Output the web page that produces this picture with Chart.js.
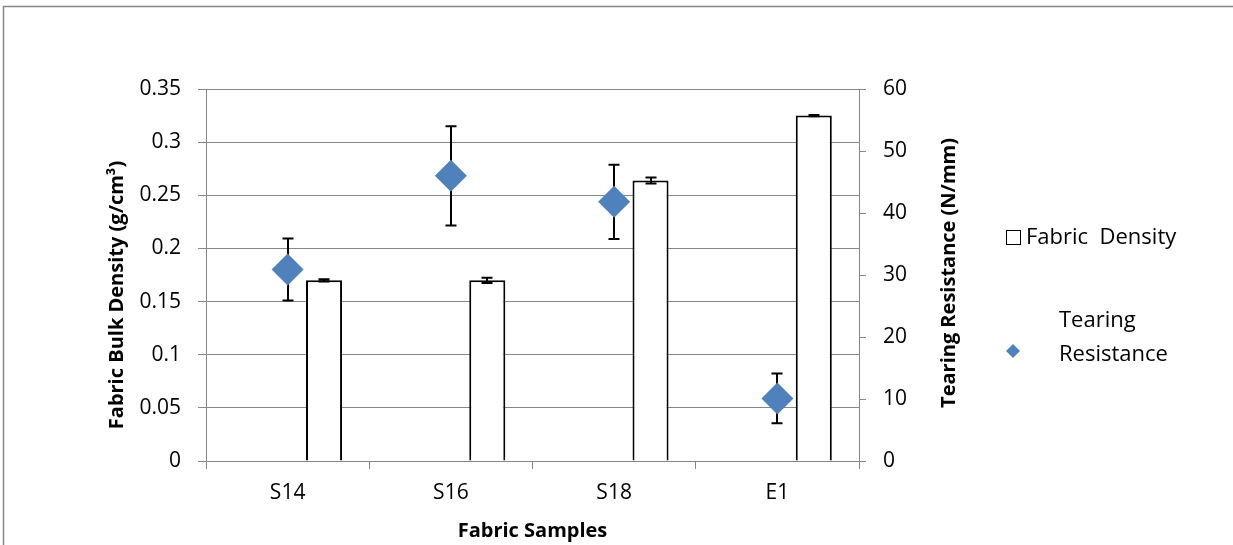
<!DOCTYPE html>
<html><head><meta charset="utf-8">
<script src="https://cdn.jsdelivr.net/npm/chart.js@4/dist/chart.umd.min.js"></script>
<style>html,body{margin:0;padding:0;background:#fff}#wrap{width:1233px;height:545px;position:relative}</style>
</head><body><div id="wrap"><canvas id="c"></canvas></div>
<script>
const categories = ['S14', 'S16', 'S18', 'E1'];
const densityValues = [0.170, 0.170, 0.264, 0.325];
const densityErrors = [0.001, 0.0025, 0.0028, 0.0006];
const tearingValues = [30.9, 46.0, 41.8, 10.1];
const tearingErrors = [5.0, 8.0, 6.0, 4.0];
const densityLabel = 'Fabric  Density';
const tearingLabel = 'Tearing Resistance';
const xTitle = 'Fabric Samples';
const yLeftTitle = 'Fabric Bulk Density (g/cm\u00B3)';
const yRightTitle = 'Tearing Resistance (N/mm)';

const FONT = '"Open Sans", "Liberation Sans", sans-serif';
const AX = '#868686';

const errorBarPlugin = {
  id: 'errorBars',
  drawErr(chart, dsIndex) {
    const ds = chart.data.datasets[dsIndex];
    if (!ds.errorBars) return;
    const meta = chart.getDatasetMeta(dsIndex);
    const sc = chart.scales[ds.yAxisID];
    const ctx = chart.ctx;
    ctx.save();
    ctx.strokeStyle = '#000';
    ctx.lineWidth = 2;
    ds.data.forEach((v, i) => {
      if (v == null) return;
      const el = meta.data[i];
      const x = Math.round(el.x);
      const yt = sc.getPixelForValue(v + ds.errorBars[i]);
      const yb = sc.getPixelForValue(v - ds.errorBars[i]);
      ctx.beginPath();
      ctx.moveTo(x, yt); ctx.lineTo(x, yb);
      ctx.moveTo(x - 5.5, yt); ctx.lineTo(x + 5.5, yt);
      ctx.moveTo(x - 5.5, yb); ctx.lineTo(x + 5.5, yb);
      ctx.stroke();
    });
    ctx.restore();
  },
  beforeDatasetDraw(chart, args) {
    if (chart.data.datasets[args.index].type === 'line') this.drawErr(chart, args.index);
  },
  afterDatasetDraw(chart, args) {
    if (chart.data.datasets[args.index].type === 'bar') this.drawErr(chart, args.index);
  }
};

const decorPlugin = {
  id: 'decor',
  beforeDraw(chart) {
    const ctx = chart.ctx;
    ctx.save();
    ctx.strokeStyle = AX;
    ctx.lineWidth = 1.5;
    ctx.strokeRect(3.5, 6.5, 1400, 700);
    ctx.restore();
  },
  afterDraw(chart) {
    const ctx = chart.ctx;
    ctx.save();
    ctx.fillStyle = '#000';
    ctx.font = 'bold 20px ' + FONT;
    ctx.textAlign = 'center';
    ctx.textBaseline = 'middle';
    ctx.save(); ctx.translate(117, 295); ctx.rotate(-Math.PI / 2); ctx.fillText(yLeftTitle, 0, 0); ctx.restore();
    ctx.save(); ctx.translate(949, 273); ctx.rotate(-Math.PI / 2); ctx.fillText(yRightTitle, 0, 0); ctx.restore();

    // legend
    const dsBar = chart.data.datasets[1];
    const dsLine = chart.data.datasets[2];
    ctx.font = '22px ' + FONT;
    ctx.textAlign = 'left';
    ctx.fillStyle = '#fff';
    ctx.fillRect(1006.5, 230.5, 14, 14);
    ctx.strokeStyle = '#000';
    ctx.lineWidth = 1;
    ctx.strokeRect(1006.5, 230.5, 14, 14);
    ctx.fillStyle = '#000';
    ctx.fillText(dsBar.label, 1026, 238);
    const parts = dsLine.label.split(' ');
    ctx.fillText(parts[0], 1059, 321);
    ctx.fillText(parts.slice(1).join(' '), 1059, 355);
    ctx.fillStyle = dsLine.backgroundColor;
    ctx.beginPath();
    ctx.moveTo(1013, 344); ctx.lineTo(1020, 351); ctx.lineTo(1013, 358); ctx.lineTo(1006, 351);
    ctx.closePath(); ctx.fill();
    ctx.restore();
  }
};

const tickFont = { family: FONT, size: 21 };

new Chart(document.getElementById('c'), {
  type: 'bar',
  data: {
    labels: categories,
    datasets: [
      { type: 'bar', label: '', data: categories.map(() => null), yAxisID: 'yL',
        categoryPercentage: 0.892, barPercentage: 0.495, order: 2 },
      { type: 'bar', label: densityLabel, data: densityValues, errorBars: densityErrors, yAxisID: 'yL',
        backgroundColor: '#ffffff', borderColor: '#000000', borderWidth: 2,
        categoryPercentage: 0.892, barPercentage: 0.495, order: 3 },
      { type: 'line', label: tearingLabel, data: tearingValues, errorBars: tearingErrors, yAxisID: 'yR',
        showLine: false, pointStyle: 'rectRot', pointRadius: 16, pointHoverRadius: 16,
        backgroundColor: '#4F81BD', borderColor: '#4F81BD', pointBorderWidth: 0, order: 1 }
    ]
  },
  options: {
    responsive: true,
    maintainAspectRatio: false,
    animation: false,
    layout: { padding: { top: 89, left: 0, right: 0, bottom: 0 } },
    plugins: { legend: { display: false }, tooltip: { enabled: false } },
    scales: {
      x: {
        type: 'category',
        offset: true,
        grid: { offset: true, drawOnChartArea: false, drawTicks: true, tickLength: 8, color: AX, lineWidth: 1 },
        border: { display: true, color: AX, width: 1 },
        ticks: { color: '#000', font: tickFont, padding: 11, maxRotation: 0 },
        title: { display: true, text: xTitle, color: '#000', font: { family: FONT, size: 20, weight: 'bold' }, padding: { top: 0, bottom: 2 } },
        afterFit(s) { s.height = 84; }
      },
      yL: {
        position: 'left',
        min: 0, max: 0.35,
        ticks: { stepSize: 0.05, color: '#000', font: tickFont, padding: 17,
          callback: v => String(parseFloat(Number(v).toFixed(2))) },
        grid: { color: AX, lineWidth: 1, tickLength: 8 },
        border: { display: true, color: AX, width: 1 },
        afterFit(s) { s.width = 206; }
      },
      yR: {
        position: 'right',
        min: 0, max: 60,
        ticks: { stepSize: 10, color: '#000', font: tickFont, padding: 17 },
        grid: { drawOnChartArea: false, color: AX, lineWidth: 1, tickLength: 7 },
        border: { display: true, color: AX, width: 1 },
        afterFit(s) { s.width = 374; }
      }
    }
  },
  plugins: [errorBarPlugin, decorPlugin]
});
</script>
</body></html>
